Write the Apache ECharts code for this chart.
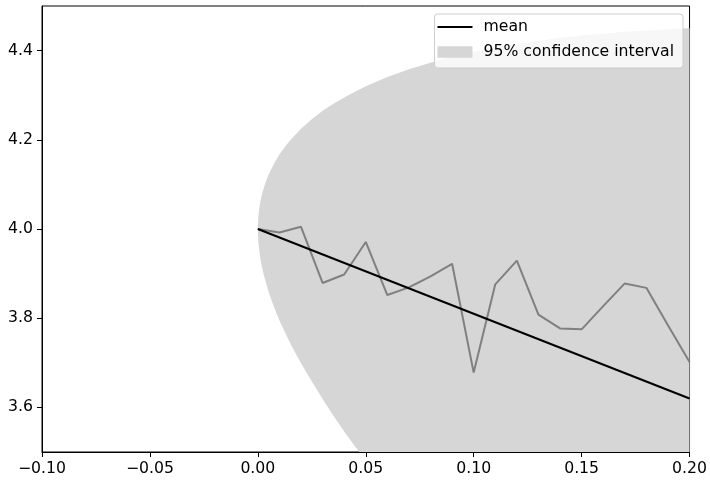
<!DOCTYPE html>
<html>
<head>
<meta charset="utf-8">
<script src="https://cdn.jsdelivr.net/npm/echarts@6/dist/echarts.min.js"></script>
<style>html,body{margin:0;padding:0;background:#fff}#c{width:710px;height:480px}</style>
</head>
<body>
<div id="c"></div>
<script>
// sample path (t = 0 .. 0.20, step 0.01)
var pathT = [0,0.01,0.02,0.03,0.04,0.05,0.06,0.07,0.08,0.09,0.10,0.11,0.12,0.13,0.14,0.15,0.16,0.17,0.18,0.19,0.20];
var pathY = [4.000,3.992,4.005,3.879,3.898,3.971,3.852,3.869,3.894,3.922,3.678,3.876,3.929,3.808,3.777,3.775,3.827,3.878,3.868,3.784,3.702];
// mean line
var meanT = [0, 0.20];
var meanY = [4.00, 3.62];
// 95% confidence interval band
var ciT     = [0, 0.0002, 0.0005, 0.001, 0.0015, 0.0025, 0.0035, 0.005, 0.0065, 0.008, 0.01, 0.0125, 0.015, 0.0175, 0.02, 0.025, 0.03, 0.035, 0.04, 0.045, 0.05, 0.06, 0.07, 0.08, 0.09, 0.10, 0.11, 0.12, 0.13, 0.14, 0.15, 0.16, 0.17, 0.18, 0.19, 0.20];
var ciUpper = [4.000, 4.026, 4.041, 4.057, 4.069, 4.088, 4.103, 4.122, 4.137, 4.151, 4.167, 4.184, 4.199, 4.212, 4.225, 4.246, 4.265, 4.281, 4.295, 4.308, 4.320, 4.341, 4.358, 4.373, 4.386, 4.397, 4.407, 4.415, 4.422, 4.429, 4.434, 4.438, 4.442, 4.445, 4.448, 4.450];
var ciLower = [4.000, 3.973, 3.958, 3.939, 3.925, 3.902, 3.884, 3.859, 3.838, 3.819, 3.795, 3.769, 3.744, 3.721, 3.699, 3.658, 3.619, 3.581, 3.546, 3.513, 3.482, 3.425, 3.371, 3.320, 3.270, 3.221, 3.174, 3.128, 3.083, 3.039, 2.996, 2.954, 2.912, 2.871, 2.830, 2.790];
// ticks
var xTicks = [-0.10, -0.05, 0.00, 0.05, 0.10, 0.15, 0.20];
var yTicks = [3.6, 3.8, 4.0, 4.2, 4.4];

var FONT = 'DejaVu Sans';
var FS = 15.7;
var chart = echarts.init(document.getElementById('c'), null, {renderer: 'canvas'});
function fmt(v, d) { return v.toFixed(d).replace('-', '\u2212'); }

chart.setOption({
  animation: false,
  backgroundColor: '#fff',
  grid: {left: 42, right: 20, top: 6, bottom: 28, show: true, borderColor: '#000', borderWidth: 1, backgroundColor: 'transparent'},
  xAxis: {
    type: 'value', min: -0.10, max: 0.20,
    axisLine: {show: true, onZero: false, lineStyle: {color: '#000', width: 1}},
    axisTick: {show: true, inside: false, length: 5, lineStyle: {color: '#000'}, customValues: xTicks},
    axisLabel: {show: true, margin: 9, color: '#000', fontFamily: FONT, fontSize: FS, customValues: xTicks,
      formatter: function (v) { return fmt(v, 2); }},
    splitLine: {show: false}
  },
  yAxis: {
    type: 'value', min: 3.5, max: 4.5,
    axisLine: {show: true, onZero: false, lineStyle: {color: '#000', width: 1}},
    axisTick: {show: true, inside: false, length: 5, lineStyle: {color: '#000'}, customValues: yTicks},
    axisLabel: {show: true, margin: 9, color: '#000', fontFamily: FONT, fontSize: FS, customValues: yTicks,
      formatter: function (v) { return fmt(v, 1); }},
    splitLine: {show: false}
  },
  legend: {
    orient: 'vertical', right: 27, top: 14,
    padding: [5, 9, 8, 3], itemGap: 9, itemWidth: 35, itemHeight: 14,
    backgroundColor: 'rgba(255,255,255,0.8)', borderColor: '#cccccc', borderWidth: 1, borderRadius: 3,
    textStyle: {fontFamily: FONT, fontSize: FS, lineHeight: 16, color: '#000', padding: [0, 0, 0, 6]},
    data: [
      {name: 'mean', icon: 'path://M0,0 L35,0 L35,2 L0,2 Z'},
      {name: '95% confidence interval', icon: 'path://M0,0 L34,0 L34,11 L0,11 Z'}
    ]
  },
  series: [
    {
      name: '95% confidence interval', type: 'custom', clip: true, z: 1,
      itemStyle: {color: '#d6d6d6'},
      data: [[0, 4]],
      renderItem: function (params, api) {
        var pts = [];
        for (var i = 0; i < ciT.length; i++) pts.push(api.coord([ciT[i], ciUpper[i]]));
        for (var j = ciT.length - 1; j >= 0; j--) pts.push(api.coord([ciT[j], ciLower[j]]));
        return {type: 'polygon', shape: {points: pts, smooth: 0}, style: {fill: '#d6d6d6', stroke: null}};
      }
    },
    {
      name: 'path', type: 'line', z: 2, showSymbol: false, symbol: 'none', clip: true,
      lineStyle: {color: '#808080', width: 2},
      data: pathT.map(function (t, i) { return [t, pathY[i]]; })
    },
    {
      name: 'mean', type: 'line', z: 3, showSymbol: false, symbol: 'none', clip: true,
      itemStyle: {color: '#000'},
      lineStyle: {color: '#000', width: 2},
      data: meanT.map(function (t, i) { return [t, meanY[i]]; })
    }
  ]
});
</script>
</body>
</html>
